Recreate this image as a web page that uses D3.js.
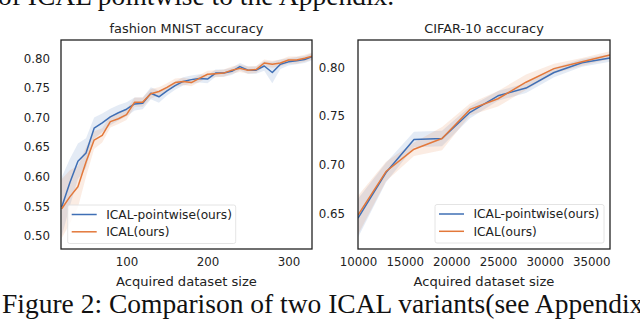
<!DOCTYPE html>
<html><head><meta charset="utf-8">
<script src="https://cdn.jsdelivr.net/npm/d3@7"></script>
<style>html,body{margin:0;padding:0;background:#fff;}svg{display:block;}</style>
</head><body>
<script>
// ---- data ----
const seriesNames = ["ICAL-pointwise(ours)", "ICAL(ours)"];
const fashionX = [20,30,40,50,60,70,80,90,100,110,120,130,140,150,160,170,180,190,200,210,220,230,240,250,260,270,280,290,300,310,320,330];
const fashionPointwise = [0.549,0.590,0.626,0.640,0.682,0.691,0.701,0.708,0.714,0.723,0.724,0.741,0.735,0.745,0.754,0.761,0.764,0.766,0.765,0.775,0.775,0.778,0.786,0.780,0.780,0.787,0.776,0.790,0.794,0.796,0.798,0.803];
const fashionPointwiseStd = [0.05,0.04,0.03,0.025,0.018,0.016,0.014,0.013,0.012,0.011,0.010,0.010,0.010,0.008,0.007,0.007,0.007,0.007,0.007,0.006,0.006,0.006,0.006,0.006,0.006,0.008,0.018,0.008,0.006,0.006,0.006,0.006];
const fashionICAL = [0.546,0.566,0.583,0.625,0.662,0.670,0.693,0.698,0.705,0.726,0.726,0.740,0.744,0.751,0.759,0.761,0.759,0.766,0.773,0.774,0.775,0.780,0.783,0.780,0.781,0.792,0.790,0.792,0.797,0.797,0.800,0.804];
const fashionICALStd = [0.05,0.045,0.035,0.025,0.015,0.012,0.010,0.009,0.009,0.008,0.008,0.008,0.007,0.007,0.007,0.006,0.006,0.006,0.006,0.006,0.006,0.006,0.006,0.006,0.006,0.006,0.006,0.006,0.006,0.006,0.006,0.006];
const fashionYTicks = [0.50,0.55,0.60,0.65,0.70,0.75,0.80];
const fashionXTicks = [100,200,300];

const cifarX = [10000,13000,16000,19000,22000,25000,28000,31000,34000,37000];
const cifarPointwise = [0.645,0.692,0.726,0.727,0.754,0.771,0.779,0.795,0.805,0.810];
const cifarPointwiseStd = [0.02,0.010,0.008,0.008,0.006,0.005,0.005,0.005,0.004,0.004];
const cifarICAL = [0.648,0.693,0.716,0.727,0.757,0.768,0.785,0.799,0.806,0.813];
const cifarICALStd = [0.02,0.010,0.007,0.012,0.006,0.008,0.008,0.005,0.004,0.004];
const cifarYTicks = [0.65,0.70,0.75,0.80];
const cifarXTicks = [10000,15000,20000,25000,30000,35000];

const titles = ["fashion MNIST accuracy", "CIFAR-10 accuracy"];
const xLabel = "Acquired dataset size";
const topText = "of ICAL pointwise to the Appendix.";
const captionText = "Figure 2: Comparison of two ICAL variants(see Appendix";

const colors = ["#3f6fb5", "#e3783a"];
const font = "DejaVu Sans";

const svg = d3.select("body").append("svg").attr("width",640).attr("height",323);
svg.append("rect").attr("width",640).attr("height",323).attr("fill","#fff");

svg.append("text").attr("x",-2).attr("y",5).attr("font-family","Liberation Serif")
  .attr("font-size",27.5).attr("fill","#111").text(topText);
svg.append("text").attr("x",2).attr("y",312.5).attr("font-family","Liberation Serif")
  .attr("font-size",27.5).attr("fill","#111").text(captionText);

function panel(cfg){
  const g = svg.append("g");
  const x = d3.scaleLinear().domain(cfg.xDomain).range([cfg.left, cfg.right]);
  const y = d3.scaleLinear().domain(cfg.yDomain).range([cfg.bottom, cfg.top]);
  const clipId = "clip"+cfg.id;
  svg.append("clipPath").attr("id",clipId).append("rect")
    .attr("x",cfg.left).attr("y",cfg.top).attr("width",cfg.right-cfg.left).attr("height",cfg.bottom-cfg.top);
  const plot = g.append("g").attr("clip-path",`url(#${clipId})`);
  cfg.series.forEach((s,i)=>{
    const pts = cfg.xs.map((xv,j)=>({x:xv,m:s.mean[j],sd:s.std[j]}));
    const area = d3.area().x(d=>x(d.x)).y0(d=>y(d.m-d.sd)).y1(d=>y(d.m+d.sd));
    plot.append("path").datum(pts).attr("d",area).attr("fill",colors[i]).attr("fill-opacity",0.14);
  });
  cfg.series.forEach((s,i)=>{
    const pts = cfg.xs.map((xv,j)=>({x:xv,m:s.mean[j]}));
    const line = d3.line().x(d=>x(d.x)).y(d=>y(d.m));
    plot.append("path").datum(pts).attr("d",line).attr("fill","none")
      .attr("stroke",colors[i]).attr("stroke-width",1.5).attr("stroke-linejoin","round");
  });
  // axes
  const ya = d3.axisLeft(y).tickValues(cfg.yTicks).tickFormat(d3.format(".2f")).tickSize(0).tickPadding(cfg.yPad);
  const yg = g.append("g").attr("transform",`translate(${cfg.left},0)`).call(ya);
  const xa = d3.axisBottom(x).tickValues(cfg.xTicks).tickFormat(d3.format("d")).tickSize(0).tickPadding(9);
  const xg = g.append("g").attr("transform",`translate(0,${cfg.bottom})`).call(xa);
  [yg,xg].forEach(a=>{
    a.select(".domain").remove();
    a.selectAll("text").attr("font-family",font).attr("font-size",11.8).attr("fill","#222");
  });
  g.append("rect").attr("x",cfg.left).attr("y",cfg.top).attr("width",cfg.right-cfg.left).attr("height",cfg.bottom-cfg.top)
    .attr("fill","none").attr("stroke","#222").attr("stroke-width",1.3);
  g.append("text").attr("x",(cfg.left+cfg.right)/2).attr("y",cfg.top-7).attr("text-anchor","middle")
    .attr("font-family",font).attr("font-size",12.9).attr("fill","#222").text(cfg.title);
  g.append("text").attr("x",(cfg.left+cfg.right)/2).attr("y",285.5).attr("text-anchor","middle")
    .attr("font-family",font).attr("font-size",13.1).attr("fill","#222").text(xLabel);
  // legend
  const L = cfg.legend;
  g.append("rect").attr("x",L.x).attr("y",L.y).attr("width",L.w).attr("height",L.h).attr("rx",2)
    .attr("fill","#fff").attr("fill-opacity",0.8).attr("stroke","#ddd").attr("stroke-width",0.8);
  seriesNames.forEach((n,i)=>{
    const yy = L.y + 9.5 + i*17.3;
    g.append("line").attr("x1",L.x+4).attr("x2",L.x+29).attr("y1",yy).attr("y2",yy)
      .attr("stroke",colors[i]).attr("stroke-width",1.5);
    g.append("text").attr("x",L.x+38.5).attr("y",yy+4.3).attr("font-family",font).attr("font-size",12.2)
      .attr("fill","#222").text(n);
  });
}

panel({id:1,left:61,right:312,top:40,bottom:249,xDomain:[19.1,329],yDomain:[0.478,0.8309],
  xs:fashionX,series:[{mean:fashionPointwise,std:fashionPointwiseStd},{mean:fashionICAL,std:fashionICALStd}],
  yTicks:fashionYTicks,xTicks:fashionXTicks,yPad:11,title:titles[0],
  legend:{x:67.7,y:205,w:168,h:38.5}});
panel({id:2,left:358,right:610,top:40,bottom:249,xDomain:[10000,37000],yDomain:[0.6132,0.8285],
  xs:cifarX,series:[{mean:cifarPointwise,std:cifarPointwiseStd},{mean:cifarICAL,std:cifarICALStd}],
  yTicks:cifarYTicks,xTicks:cifarXTicks,yPad:13,title:titles[1],
  legend:{x:435,y:204.5,w:169,h:38.5}});
</script>
</body></html>
